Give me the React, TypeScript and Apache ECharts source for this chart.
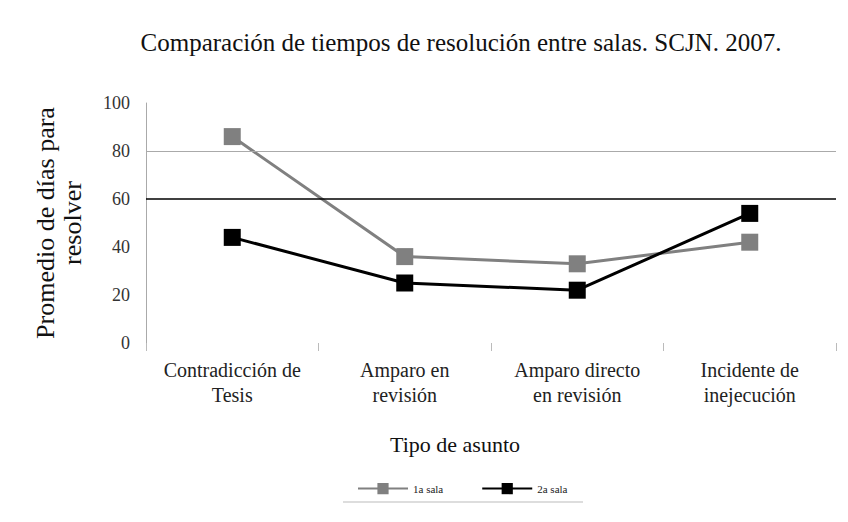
import React, { useEffect, useRef } from "react";
import * as echarts from "echarts";

const categories = [
  "Contradicción de\nTesis",
  "Amparo en\nrevisión",
  "Amparo directo\nen revisión",
  "Incidente de\ninejecución",
];
const sala1 = [86, 36, 33, 42];
const sala2 = [44, 25, 22, 54];
const yTicks = [0, 20, 40, 60, 80, 100];

const FONT = "Liberation Serif, Times New Roman, serif";

export default function App() {
  const ref = useRef<HTMLDivElement>(null);
  useEffect(() => {
    if (!ref.current) return;
    const chart = echarts.init(ref.current, undefined, { renderer: "svg" });
    chart.setOption({
      animation: false,
      backgroundColor: "#fff",
      textStyle: { fontFamily: FONT },
      title: {
        text: "Comparación de tiempos de resolución entre salas. SCJN. 2007.",
        left: 456,
        textAlign: "center",
        top: 25,
        textStyle: { fontFamily: FONT, fontSize: 25, fontWeight: "normal", color: "#111" },
      },
      legend: {
        data: ["1a sala", "2a sala"],
        left: 352,
        top: 478,
        itemWidth: 50,
        itemHeight: 14,
        itemGap: 38,
        textStyle: { fontFamily: FONT, fontSize: 11, color: "#222" },
      },
      graphic: [
        {
          type: "line",
          shape: { x1: 343, y1: 502, x2: 583, y2: 502 },
          style: { stroke: "#bbb", lineWidth: 1 },
        },
      ],
      grid: { left: 146, right: 12, top: 103, bottom: 179 },
      xAxis: {
        type: "category",
        data: categories,
        boundaryGap: true,
        name: "Tipo de asunto",
        nameLocation: "middle",
        nameGap: 90,
        nameTextStyle: { fontFamily: FONT, fontSize: 22, color: "#111", padding: [0, 72, 0, 0] },
        axisLine: { show: false },
        axisTick: { show: true, alignWithLabel: false, length: 8, lineStyle: { color: "#bbb" } },
        axisLabel: {
          fontFamily: FONT,
          fontSize: 20,
          color: "#222",
          lineHeight: 25,
          margin: 14,
          interval: 0,
        },
      },
      yAxis: {
        type: "value",
        min: 0,
        max: 100,
        interval: 20,
        name: "Promedio de días para\nresolver",
        nameLocation: "middle",
        nameGap: 60,
        nameRotate: 90,
        nameTextStyle: { fontFamily: FONT, fontSize: 26, color: "#111", lineHeight: 27 },
        axisLine: { show: true, lineStyle: { color: "#aaa", width: 1 } },
        axisTick: { show: false },
        splitLine: { show: false },
        axisLabel: {
          fontFamily: FONT,
          fontSize: 18,
          color: "#333",
          margin: 16,
          formatter: (v: number) => (yTicks.includes(v) ? String(v) : ""),
        },
      },
      series: [
        {
          name: "1a sala",
          type: "line",
          data: sala1,
          symbol: "rect",
          symbolSize: 17,
          itemStyle: { color: "#808080" },
          lineStyle: { color: "#808080", width: 3 },
          markLine: {
            silent: true,
            symbol: "none",
            label: { show: false },
            data: [
              { yAxis: 80, lineStyle: { color: "#aaa", width: 1, type: "solid" } },
              { yAxis: 60, lineStyle: { color: "#000", width: 1.6, type: "solid" } },
            ],
          },
        },
        {
          name: "2a sala",
          type: "line",
          data: sala2,
          symbol: "rect",
          symbolSize: 17,
          itemStyle: { color: "#000" },
          lineStyle: { color: "#000", width: 3 },
        },
      ],
    });
    return () => chart.dispose();
  }, []);
  return <div ref={ref} style={{ width: 848, height: 522, position: "absolute", left: 0, top: 0 }} />;
}
